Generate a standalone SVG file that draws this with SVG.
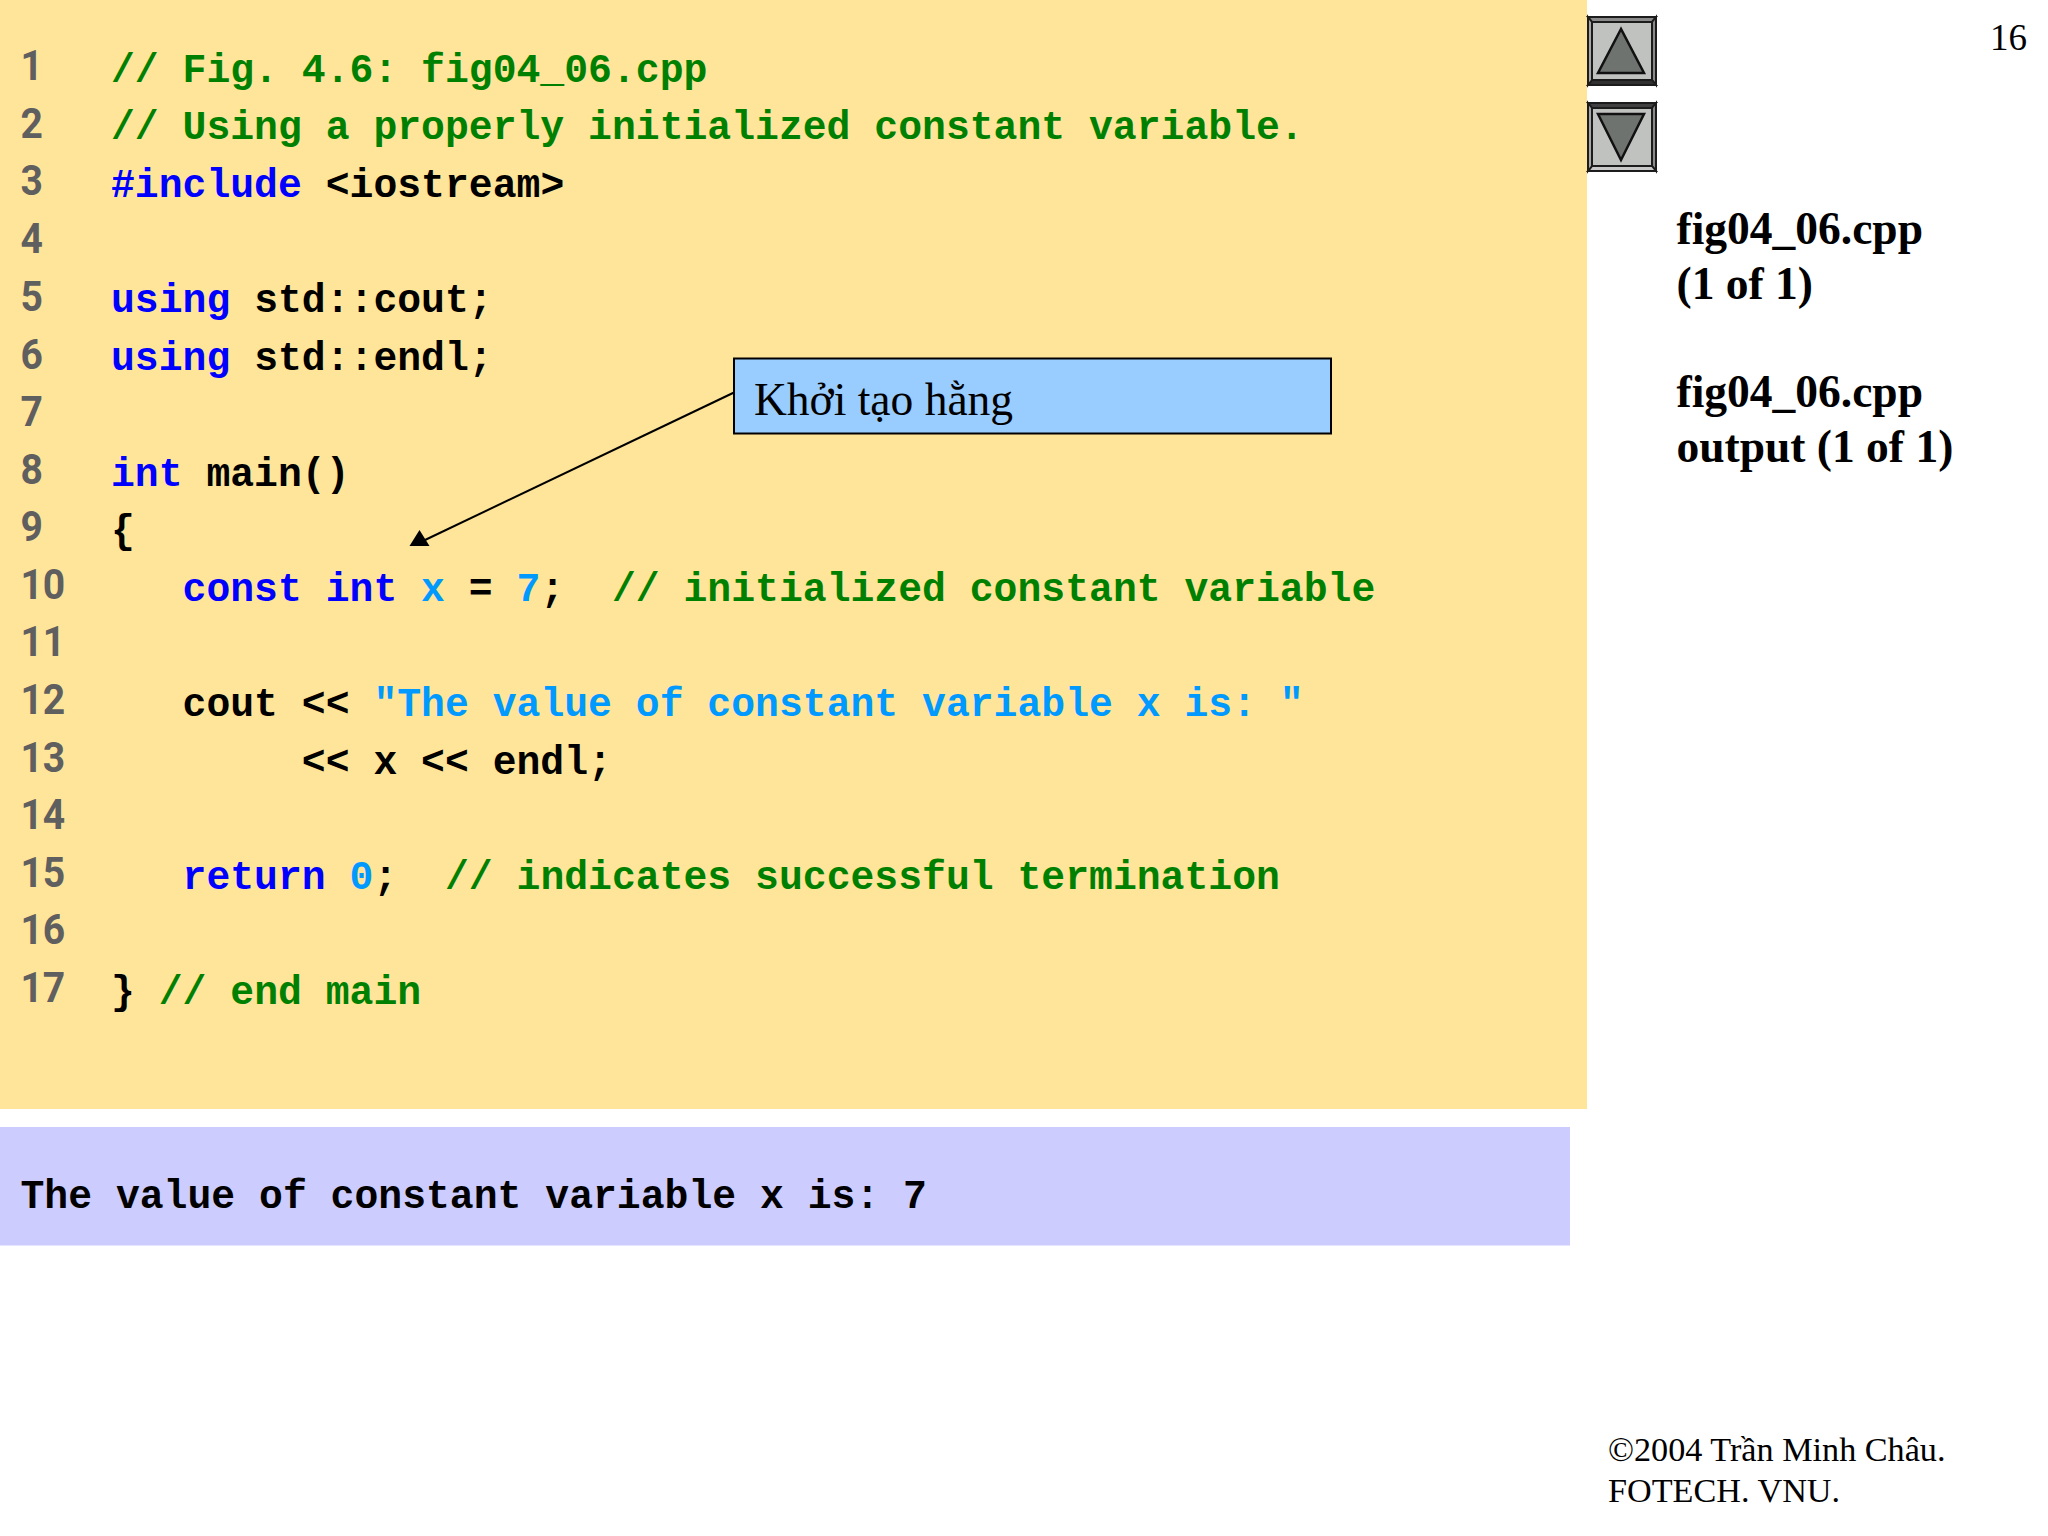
<svg xmlns="http://www.w3.org/2000/svg" width="2048" height="1536" viewBox="0 0 2048 1536">
  <style>
    .code { font-family: "Liberation Mono", monospace; font-weight: 700; font-size: 39.75px; white-space: pre; fill: #000; }
    .c { fill: #008000; } .k { fill: #0000ff; } .v { fill: #0099ff; }
    .n { font-family: "Roboto", "Noto Sans", sans-serif; font-weight: 700; font-size: 42px; fill: #5f5f5f; }
    .side { font-family: "Liberation Serif", serif; font-weight: 700; font-size: 45.5px; fill: #000; }
    .serif { font-family: "Liberation Serif", serif; fill: #000; }
    .bevel { stroke: #1c1c1c; stroke-width: 2; }
    .tri { fill: #6f7370; stroke: #111; stroke-width: 2.5; stroke-linejoin: miter; }
  </style>
  <rect width="2048" height="1536" fill="#ffffff"/>
  <g id="code-panel">
    <rect x="0" y="0" width="1587" height="1109" fill="#ffe599"/>
    <g id="line-numbers" transform="scale(0.93 1)">
      <text class="n" x="22" y="80">1</text>
      <text class="n" x="22" y="138">2</text>
      <text class="n" x="22" y="195">3</text>
      <text class="n" x="22" y="253">4</text>
      <text class="n" x="22" y="311">5</text>
      <text class="n" x="22" y="369">6</text>
      <text class="n" x="22" y="426">7</text>
      <text class="n" x="22" y="484">8</text>
      <text class="n" x="22" y="541">9</text>
      <text class="n" x="22" y="599">10</text>
      <text class="n" x="22" y="656">11</text>
      <text class="n" x="22" y="714">12</text>
      <text class="n" x="22" y="772">13</text>
      <text class="n" x="22" y="829">14</text>
      <text class="n" x="22" y="887">15</text>
      <text class="n" x="22" y="944">16</text>
      <text class="n" x="22" y="1002">17</text>
    </g>
    <g id="code-lines" xml:space="preserve">
      <text class="code" x="111" y="81.5"><tspan class="c">// Fig. 4.6: fig04_06.cpp</tspan></text>
      <text class="code" x="111" y="139"><tspan class="c">// Using a properly initialized constant variable.</tspan></text>
      <text class="code" x="111" y="197"><tspan class="k">#include</tspan> &lt;iostream&gt;</text>
      <text class="code" x="111" y="312"><tspan class="k">using</tspan> std::cout;</text>
      <text class="code" x="111" y="370"><tspan class="k">using</tspan> std::endl;</text>
      <text class="code" x="111" y="485.5"><tspan class="k">int</tspan> main()</text>
      <text class="code" x="111" y="543">{</text>
      <text class="code" x="111" y="601">   <tspan class="k">const int</tspan> <tspan class="v">x</tspan> = <tspan class="v">7</tspan>;  <tspan class="c">// initialized constant variable</tspan></text>
      <text class="code" x="111" y="716">   cout &lt;&lt; <tspan class="v">"The value of constant variable x is: "</tspan></text>
      <text class="code" x="111" y="773.5">        &lt;&lt; x &lt;&lt; endl;</text>
      <text class="code" x="111" y="889">   <tspan class="k">return</tspan> <tspan class="v">0</tspan>;  <tspan class="c">// indicates successful termination</tspan></text>
      <text class="code" x="111" y="1004">} <tspan class="c">// end main</tspan></text>
    </g>
  </g>
  <g id="output-panel">
    <rect x="0" y="1127" width="1570" height="118.5" fill="#ccccff"/>
    <text class="code" x="20.5" y="1208" xml:space="preserve">The value of constant variable x is: 7</text>
  </g>
  <g id="callout">
    <rect x="734" y="358.5" width="597" height="75" fill="#99ccff" stroke="#000" stroke-width="2"/>
    <text class="serif" x="754" y="415" font-size="45.5">Khởi tạo hằng</text>
  </g>
  <g id="connectors">
    <line x1="734" y1="392.5" x2="425" y2="540" stroke="#000" stroke-width="2"/>
    <polygon points="419.5,530 409.5,546 429.5,546" fill="#000"/>
  </g>
  <g id="nav-up">
    <rect x="1588" y="17" width="68" height="68" fill="#c0c2c0" class="bevel"/>
    <polygon points="1588,17 1656,17 1652,22 1592,22" fill="#8a8a8a" class="bevel"/>
    <polygon points="1656,17 1656,85 1652,80 1652,22" fill="#8a8a8a" class="bevel"/>
    <polygon points="1588,85 1656,85 1652,80 1592,80" fill="#303030" class="bevel"/>
    <polygon points="1588,17 1592,22 1592,80 1588,85" fill="#a8a8a8" class="bevel"/>
    <polygon points="1621,29 1598,73 1644,73" class="tri"/>
  </g>
  <g id="nav-down">
    <rect x="1588" y="103" width="68" height="68" fill="#c0c2c0" class="bevel"/>
    <polygon points="1588,103 1656,103 1652,108 1592,108" fill="#404040" class="bevel"/>
    <polygon points="1656,103 1656,171 1652,166 1652,108" fill="#8a8a8a" class="bevel"/>
    <polygon points="1588,171 1656,171 1652,166 1592,166" fill="#c8c8c8" class="bevel"/>
    <polygon points="1588,103 1592,108 1592,166 1588,171" fill="#a8a8a8" class="bevel"/>
    <polygon points="1621,160 1598,114 1644,114" class="tri"/>
  </g>
  <g id="side-labels">
    <text class="serif" x="1990" y="50" font-size="37">16</text>
    <text class="side" x="1676.5" y="244">fig04_06.cpp</text>
    <text class="side" x="1676.5" y="298.5">(1 of 1)</text>
    <text class="side" x="1676.5" y="407">fig04_06.cpp</text>
    <text class="side" x="1676.5" y="461.5">output (1 of 1)</text>
    <text class="serif" x="1608" y="1461" font-size="34.2">©2004 Trần Minh Châu.</text>
    <text class="serif" x="1608" y="1502" font-size="34.2">FOTECH. VNU.</text>
  </g>
</svg>
